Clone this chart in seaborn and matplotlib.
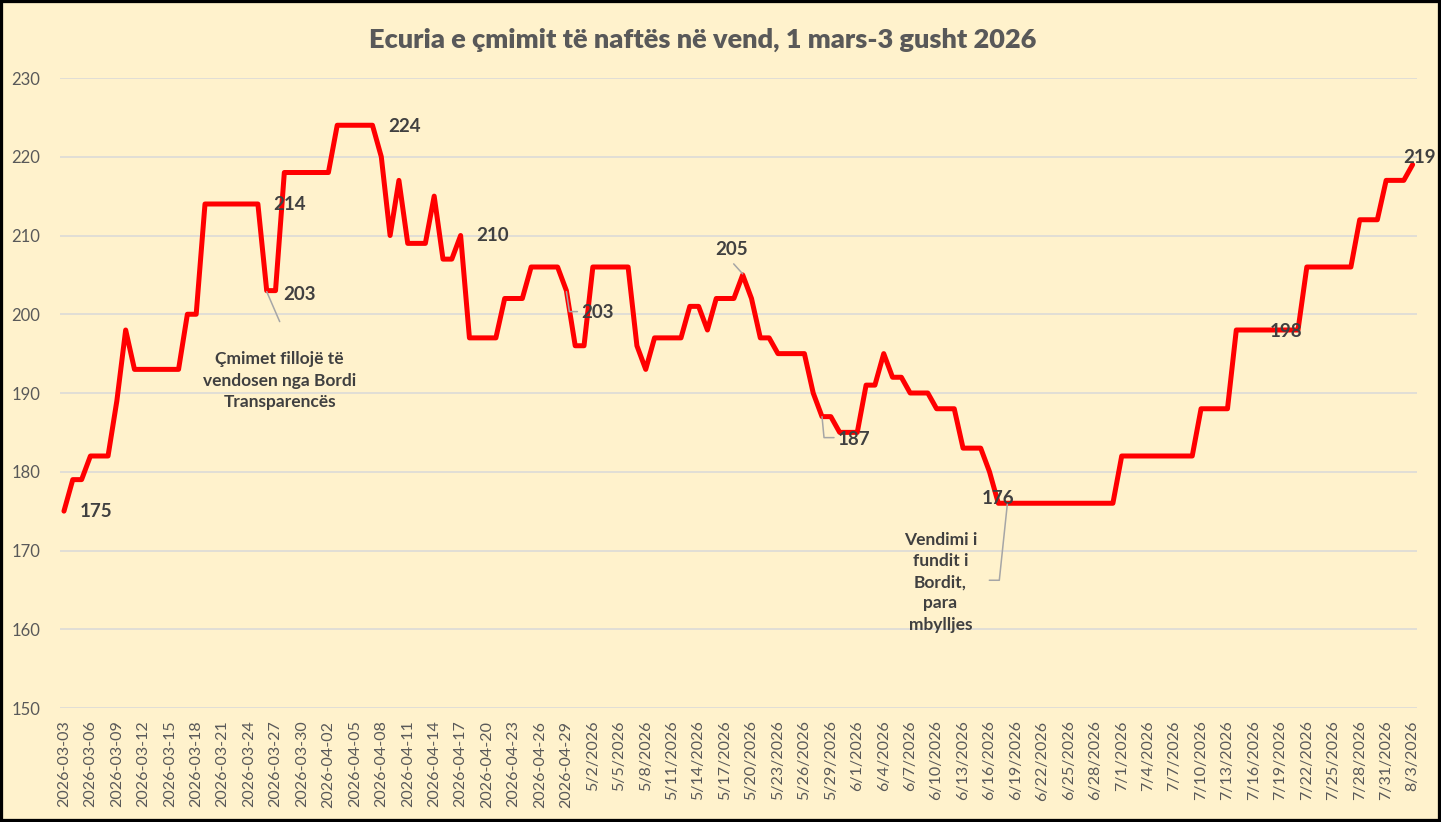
import seaborn as sns
import pandas as pd
import numpy as np
import matplotlib.pyplot as plt
from matplotlib.lines import Line2D
from matplotlib.patches import Rectangle

# daily diesel price, 3 March - 3 August 2026
prices = ([175, 179, 179, 182, 182, 182, 189, 198]
          + [193] * 6 + [200] * 2 + [214] * 7 + [203] * 2 + [218] * 6 + [224] * 5
          + [220, 210, 217] + [209] * 3 + [215] + [207] * 2 + [210] + [197] * 4
          + [202] * 3 + [206] * 4 + [203] + [196] * 2 + [206] * 5 + [196, 193]
          + [197] * 4 + [201] * 2 + [198] + [202] * 3 + [205, 202] + [197] * 2
          + [195] * 4 + [190] + [187] * 2 + [185] * 3 + [191] * 2 + [195]
          + [192] * 2 + [190] * 3 + [188] * 3 + [183] * 3 + [180] + [176] * 14
          + [182] * 9 + [188] * 4 + [198] * 8 + [206] * 6 + [212] * 3 + [217] * 3
          + [219])

dates = pd.date_range('2026-03-03', '2026-08-03', freq='D')
date_labels = [d.strftime('%Y-%m-%d') if d < pd.Timestamp('2026-05-01')
               else f'{d.month}/{d.day}/{d.year}' for d in dates]

title = 'Ecuria e çmimit të naftës në vend, 1 mars-3 gusht 2026'
note_start = 'Çmimet fillojë të\nvendosen nga Bordi\nTransparencës'
note_end = 'Vendimi i\nfundit i\nBordit,\npara\nmbylljes'

# (day index, pixel offset of label centre)
value_labels = [(0, 32, 0), (22, 32, 0), (24, 24, 4), (35, 32, 1), (45, 32, 0),
                (57, 31, 22), (77, -11, -25), (86, 32, 23), (106, 0, -5),
                (140, -12, 1), (153, 7, -7)]

df = pd.DataFrame({'day': np.arange(len(prices)), 'price': prices})

sns.set_theme(style='white')
plt.rcParams['font.family'] = ['Lato', 'DejaVu Sans']

bg = '#FFF2CC'
txt = '#595959'
lab = '#404040'

fig = plt.figure(figsize=(14.41, 8.22), dpi=100, facecolor=bg)
ax = fig.add_axes([60 / 1441, 1 - 708 / 822, (1417 - 60) / 1441, (708 - 78) / 822])
ax.set_facecolor(bg)

sns.lineplot(data=df, x='day', y='price', ax=ax, color='#FF0000', linewidth=3.6,
             solid_joinstyle='round', solid_capstyle='round', zorder=3)

ax.set_ylim(150, 230)
ax.set_yticks(range(150, 231, 10))
ax.set_xlim(-0.45, 153.5)
ax.set_xticks(df['day'][::3])
ax.set_xticklabels(date_labels[::3], rotation=90, fontsize=11.5, color=txt)
ax.tick_params(axis='x', length=0, pad=9)
ax.tick_params(axis='y', length=0, pad=14, labelsize=12, labelcolor=txt)
ax.grid(axis='y', color='#D9D9D9', linewidth=1.1)
ax.grid(axis='x', visible=False)
ax.set_xlabel('')
ax.set_ylabel('')
for s in ax.spines.values():
    s.set_visible(False)

for d, dx, dy in value_labels:
    ax.annotate(str(prices[d]), (d, prices[d]), xytext=(dx, -dy),
                textcoords='offset pixels', ha='center', va='center',
                fontsize=13.5, fontweight='bold', color=lab, zorder=5)

ax.annotate(note_start, (23, prices[23]), xytext=(13, -90), textcoords='offset pixels',
            ha='center', va='center', fontsize=12.5, fontweight='bold', color=lab,
            linespacing=1.4)
ax.annotate(note_end, (106, prices[106]), xytext=(-58, -79), textcoords='offset pixels',
            ha='center', va='center', fontsize=12.5, fontweight='bold', color=lab,
            linespacing=1.4)

# leader lines, pixel offsets from the data point (y down)
leaders = [(23, [(0, 1), (13, 31)]),
           (57, [(0, 1), (3, 21), (11, 21)]),
           (77, [(-9, -11), (0, -1)]),
           (86, [(0, 0), (2, 21), (12, 21)]),
           (106, [(9, 1), (1, 77), (-9, 77)])]
for d, offs in leaders:
    px, py = ax.transData.transform((d, prices[d]))
    xs = [px + o[0] for o in offs]
    ys = [py - o[1] for o in offs]
    fig.add_artist(Line2D(xs, ys, transform=None, color='#A6A6A6', linewidth=1.1, zorder=4))

fig.text(703 / 1441, 1 - 40 / 822, title, ha='center', va='center',
         fontsize=19.5, fontweight='heavy', color=txt)

fig.add_artist(Rectangle((0, 0), 1, 1, transform=fig.transFigure, fill=False,
                         edgecolor='black', linewidth=4.5))

fig.savefig('out.png', dpi=100, facecolor=bg)
